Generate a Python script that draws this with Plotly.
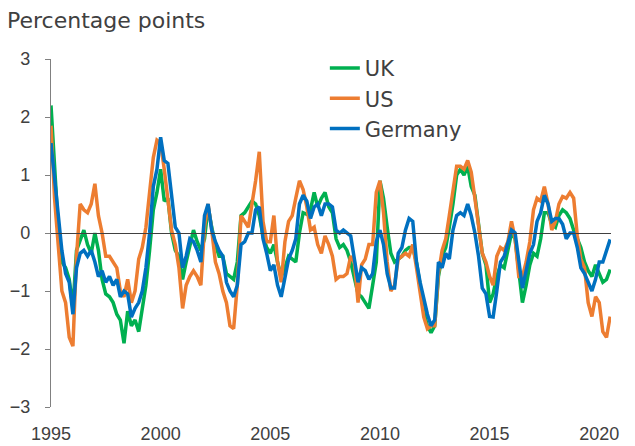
import pandas as pd
import plotly.graph_objects as go

# Bimonthly observation dates (Jan 1995 - Jul 2020)
dates = pd.date_range("1995-01-01", periods=154, freq="2MS")

uk = [2.2, 1.2, 0.1, -0.5, -0.6, -0.8, -1.3, -0.3, -0.1, 0.05, -0.2, -0.35, 0.0, -0.3, -0.8, -1.05, -1.1, -1.2, -1.4, -1.5,
      -1.9, -1.35, -1.6, -1.5, -1.7, -1.3, -0.9, -0.3, 0.4, 0.7,
      1.1, 0.55, 0.6, 0.0, -0.3, -0.4, -0.8, -0.5, -0.2, 0.05, -0.15, -0.3, -0.1, 0.45, 0.1, -0.2, -0.4, -0.4, -0.7, -0.75,
      -0.8, -0.5, 0.3, 0.35, 0.45, 0.55, 0.5, 0.3, -0.05, -0.25,
      -0.35, -0.2, -0.5, -0.75, -0.6, -0.4, -0.45, -0.5, 0.0, 0.35, 0.32, 0.4, 0.7, 0.45, 0.6, 0.7, 0.45, 0.35, -0.1, -0.25,
      -0.2, -0.3, -0.5, -0.8, -1.05, -1.1, -1.2, -1.3, -0.9, -0.5,
      0.9, 0.6, 0.1, -0.35, -0.5, -0.45, -0.4, -0.3, -0.25, -0.25, -0.5, -0.9, -1.35, -1.6, -1.72, -1.6, -0.75, -0.4, -0.25, 0.1,
      0.5, 1.0, 1.1, 1.0, 1.15, 0.8, 0.65, 0.15, -0.35, -0.55,
      -1.2, -1.05, -0.75, -0.55, -0.6, -0.3, 0.0, -0.1, -0.65, -1.2, -0.9, -0.55, -0.35, -0.4, -0.1, 0.35, 0.35, 0.15, 0.1, 0.3,
      0.4, 0.35, 0.25, 0.05, -0.1, -0.25, -0.5, -0.65, -0.75, -0.55, -0.7, -0.85, -0.8, -0.63]

us = [1.85, 0.6, -0.2, -1.0, -1.2, -1.8, -1.95, -0.4, 0.5, 0.4, 0.35, 0.5, 0.85, 0.3, 0.0, -0.4, -0.4, -0.5, -0.6, -1.0,
      -1.1, -0.8, -1.2, -1.0, -0.45, -0.25, 0.1, 0.7, 1.3, 1.6,
      1.55, 1.1, 0.6, 0.05, -0.2, -0.6, -1.3, -0.9, -0.75, -0.65, -0.75, -0.9, 0.1, 0.5, 0.05, -0.5, -0.7, -1.0, -1.2, -1.6,
      -1.65, -0.9, 0.3, 0.2, 0.1, 0.5, 0.9, 1.4, 0.2, -0.15,
      -0.15, 0.3, -0.5, -0.85, -0.15, 0.2, 0.3, 0.6, 0.9, 0.75, 0.45, 0.05, 0.1, -0.2, -0.35, -0.05, -0.2, -0.4, -0.8, -0.75,
      -0.75, -0.7, -0.4, -0.5, -1.2, -0.55, -0.45, -0.2, -0.2, 0.7,
      0.9, 0.35, -0.5, -1.0, -0.9, -0.45, -0.4, -0.35, -0.4, -0.2, -0.6, -1.0, -1.45, -1.65, -1.6, -1.6, -0.7, -0.3, -0.1, 0.3,
      0.7, 1.15, 1.15, 1.1, 1.25, 1.05, 0.6, 0.15, -0.35, -0.5,
      -0.75, -0.9, -0.4, -0.25, -0.3, -0.15, 0.2, -0.1, -0.75, -0.75, -0.5, -0.15, 0.4, 0.6, 0.55, 0.8, 0.5, 0.05, 0.2, 0.5,
      0.63, 0.6, 0.7, 0.6, -0.05, -0.45, -0.6, -1.2, -1.44, -1.1, -1.2, -1.7, -1.8, -1.44]

germany = [1.55, 0.9, 0.3, -0.3, -0.7, -0.85, -1.4, -0.6, -0.35, -0.3, -0.4, -0.3, -0.5, -0.75, -0.65, -0.85, -0.75, -0.9, -0.8, -1.1,
           -1.0, -1.05, -1.45, -1.3, -1.2, -1.0, -0.6, 0.0, 0.8, 1.1,
           1.65, 1.25, 1.2, 0.7, 0.1, 0.0, -0.6, -0.4, -0.1, -0.15, -0.3, -0.5, 0.3, 0.5, 0.05, -0.15, -0.3, -0.4, -0.85, -1.0,
           -1.1, -0.9, -0.2, -0.15, 0.0, 0.0, 0.4, 0.45, -0.1, -0.35,
           -0.65, -0.55, -0.9, -1.1, -0.75, -0.45, -0.3, -0.1, 0.5, 0.65, 0.55, 0.25, 0.45, 0.5, 0.3, 0.5, 0.5, 0.45, 0.05, 0.0,
           0.05, 0.0, -0.05, -0.45, -0.85, -0.6, -0.65, -0.8, -0.7, -0.15,
           0.05, -0.2, -0.7, -0.95, -0.95, -0.35, -0.25, 0.05, 0.25, 0.2, -0.5, -0.85, -1.15, -1.4, -1.6, -1.5, -0.5, -0.6, -0.35, -0.45,
           0.05, 0.3, 0.35, 0.3, 0.5, 0.3, 0.0, -0.4, -0.95, -1.05,
           -1.44, -1.45, -1.0, -0.5, -0.4, -0.2, 0.05, 0.0, -0.45, -0.95, -0.65, -0.35, -0.2, 0.2, 0.35, 0.65, 0.5, 0.2, 0.25, 0.25,
           0.15, -0.1, 0.0, 0.0, -0.25, -0.6, -0.7, -0.85, -1.0, -0.8, -0.5, -0.5, -0.3, -0.11]

series_names = ["UK", "US", "Germany"]
series_colors = ["#00B050", "#ED7D31", "#0070C0"]
year_ticks = ["1995", "2000", "2005", "2010", "2015", "2020"]
y_ticks = [-3, -2, -1, 0, 1, 2, 3]

TICK_FONT = "Arial, Liberation Sans, sans-serif"
WIDE_FONT = "DejaVu Sans, Verdana, sans-serif"
TXT = "#404040"

fig = go.Figure()
for name, vals, col in zip(series_names, [uk, us, germany], series_colors):
    fig.add_trace(go.Scatter(x=dates, y=vals, mode="lines", name=name,
                             line=dict(color=col, width=3.5)))
# empty trace to activate the zero-line axis carrying the ticks
fig.add_trace(go.Scatter(x=[], y=[], xaxis="x2", showlegend=False, hoverinfo="skip"))

x_range = ["1995-01-01", "2020-07-15"]
tickvals = [f"{y}-01-01" for y in year_ticks]

# page body has an 8px margin, so the figure itself is offset by 8px
fig.update_layout(
    width=635, height=446,
    margin=dict(l=43, r=32, t=51, b=47, autoexpand=False),
    paper_bgcolor="white", plot_bgcolor="white",
    font=dict(family=TICK_FONT, color=TXT, size=18),
    showlegend=True,
    legend=dict(x=0.489, y=1.032, xanchor="left", yanchor="top", bgcolor="rgba(0,0,0,0)",
                font=dict(size=21, color=TXT, family=WIDE_FONT)),
    xaxis=dict(range=x_range, tickvals=tickvals, ticktext=year_ticks, showgrid=False, zeroline=False,
               showline=False, ticks="", automargin=False, ticklabelstandoff=14,
               tickfont=dict(size=18, color=TXT)),
    xaxis2=dict(range=x_range, tickvals=tickvals, overlaying="x", matches="x", anchor="free", position=0.5,
                showline=True, linecolor="#404040", linewidth=1.3, ticks="outside", ticklen=5,
                tickcolor="#404040", showticklabels=False, showgrid=False, zeroline=False),
    yaxis=dict(range=[-3, 3], tickvals=y_ticks, showgrid=False, zeroline=False, automargin=False,
               showline=True, linecolor="#808080", linewidth=1.3, ticks="outside", ticklen=5,
               tickcolor="#808080", ticklabelstandoff=11, tickfont=dict(size=18, color=TXT)),
    annotations=[dict(text="Percentage points", xref="paper", yref="paper", x=-0.082, y=1.112,
                      xanchor="left", yanchor="middle", showarrow=False,
                      font=dict(size=22, color=TXT, family=WIDE_FONT))],
)

fig.write_html("out.html")
